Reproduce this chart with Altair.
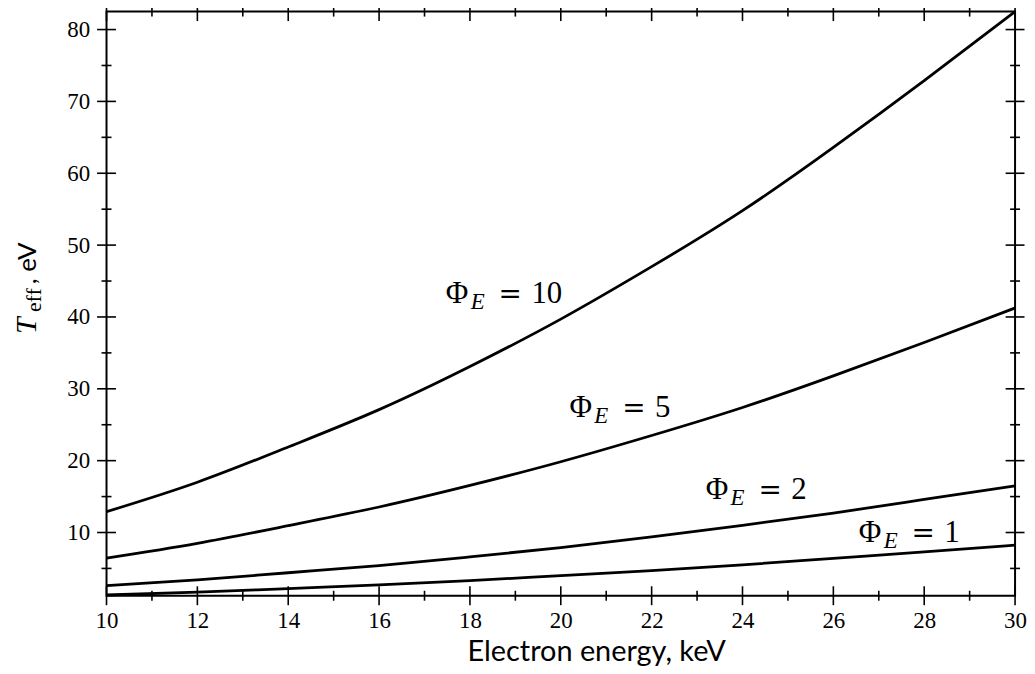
import altair as alt
import pandas as pd

# ---- data ----
energy = [10, 12, 14, 16, 18, 20, 22, 24, 26, 28, 30]
t_phi10 = [12.9, 17.0, 21.9, 27.1, 33.1, 39.7, 47.0, 54.8, 63.6, 72.9, 82.5]
t_phi5 = [6.45, 8.5, 10.95, 13.55, 16.55, 19.85, 23.5, 27.4, 31.8, 36.45, 41.25]
t_phi2 = [2.6, 3.4, 4.4, 5.4, 6.6, 7.9, 9.4, 11.0, 12.7, 14.6, 16.5]
t_phi1 = [1.3, 1.7, 2.2, 2.7, 3.3, 4.0, 4.7, 5.5, 6.4, 7.3, 8.25]
series_names = ["10", "5", "2", "1"]

x_major = [10, 12, 14, 16, 18, 20, 22, 24, 26, 28, 30]
x_minor = [11, 13, 15, 17, 19, 21, 23, 25, 27, 29]
y_major = [10, 20, 30, 40, 50, 60, 70, 80]
y_minor = [5, 15, 25, 35, 45, 55, 65, 75]

label_E = [17.47, 20.19, 23.19, 26.56]
label_T = [41.92, 26.12, 14.62, 8.66]
label_num = ["10", "5", "2", "1"]

X_DOM = [10, 30]
Y_DOM = [1.2, 82.5]
W, H = 913, 587

rows = []
for name, vals in zip(series_names, [t_phi10, t_phi5, t_phi2, t_phi1]):
    for e, t in zip(energy, vals):
        rows.append({"E": e, "T": t, "phi": name})
df = pd.DataFrame(rows)

serif = "Liberation Serif"

xs = alt.Scale(domain=X_DOM, nice=False, zero=False)
ys = alt.Scale(domain=Y_DOM, nice=False, zero=False)
x_axis = alt.Axis(
    values=x_major, ticks=False, domain=False, grid=False, labelFont=serif,
    labelFontSize=23, labelColor="black", labelPadding=14, labelFlush=False,
    title="Electron energy, keV", titleFont="Lato", titleFontSize=29,
    titleFontWeight="normal", titleColor="black", titleX=492, titleY=65,
    titleAlign="center", titleBaseline="alphabetic")
y_axis = alt.Axis(
    values=y_major, ticks=False, domain=False, grid=False, labelFont=serif,
    labelFontSize=23, labelColor="black", labelPadding=17, labelFlush=False,
    title=None)

def X(field):
    return alt.X(field, scale=xs, axis=x_axis, title="Electron energy, keV")

def Y(field):
    return alt.Y(field, scale=ys, axis=y_axis, title=None)

lines = alt.Chart(df).mark_line(color="black", strokeWidth=2.8, interpolate="natural").encode(
    x=X("E:Q"), y=Y("T:Q"), detail="phi:N",
)

def tick_layer(vals, channel, a, b):
    d = pd.DataFrame({"E": vals, "T": vals})
    if channel == "x":
        enc = dict(x=X("E:Q"), y=alt.value(a), y2=alt.value(b))
    else:
        enc = dict(y=Y("T:Q"), x=alt.value(a), x2=alt.value(b))
    return alt.Chart(d).mark_rule(color="black", strokeWidth=1.6).encode(**enc)

ticks = [
    tick_layer(x_major, "x", H - 9.5, H + 9.5),
    tick_layer(x_minor, "x", H - 5, H + 5),
    tick_layer(x_major, "x", -9.5, 9.5),
    tick_layer(x_minor, "x", -5, 5),
    tick_layer(y_major, "y", -9.5, 9.5),
    tick_layer(y_minor, "y", -5, 5),
    tick_layer(y_major, "y", W - 9.5, W + 9.5),
    tick_layer(y_minor, "y", W - 5, W + 5),
]

one = pd.DataFrame({"a": [0]})
ytitle = [
    alt.Chart(one).mark_text(text="T", angle=270, align="left", baseline="alphabetic",
                             font=serif, fontStyle="italic", fontSize=30,
                             color="black").encode(x=alt.value(-71), y=alt.value(324)),
    alt.Chart(one).mark_text(text="eff", angle=270, align="left", baseline="alphabetic",
                             font=serif, fontSize=22,
                             color="black").encode(x=alt.value(-66), y=alt.value(302)),
    alt.Chart(one).mark_text(text=", eV", angle=270, align="left", baseline="alphabetic",
                             font="Lato", fontSize=26,
                             color="black").encode(x=alt.value(-71), y=alt.value(274)),
]

ldf = pd.DataFrame({"E": label_E, "T": label_T, "num": label_num})
def lab(text=None, field=None, dx=0, dy=0, font=serif, size=29, style="normal"):
    kw = dict(align="left", baseline="alphabetic", font=font, fontSize=size,
              fontStyle=style, color="black", dx=dx, dy=dy)
    if text is not None:
        kw["text"] = text
    enc = dict(x=X("E:Q"), y=Y("T:Q"))
    if field is not None:
        enc["text"] = alt.Text(field)
    return alt.Chart(ldf).mark_text(**kw).encode(**enc)

labels = [
    lab(text="Φ", size=31),
    lab(text="E", dx=25, dy=6, size=23, style="italic"),
    lab(text="=", dx=53, font="DejaVu Sans", size=28),
    lab(field="num:N", dx=86, size=31),
]

chart = alt.layer(lines, *ticks, *ytitle, *labels).properties(
    width=W, height=H,
    autosize=alt.AutoSizeParams(type="none"),
    padding={"left": 99, "top": 2, "right": 12, "bottom": 69},
    background="white",
).configure_view(stroke="black", strokeWidth=2)

chart.save("out.html", embed_options={"renderer": "svg", "actions": False})
